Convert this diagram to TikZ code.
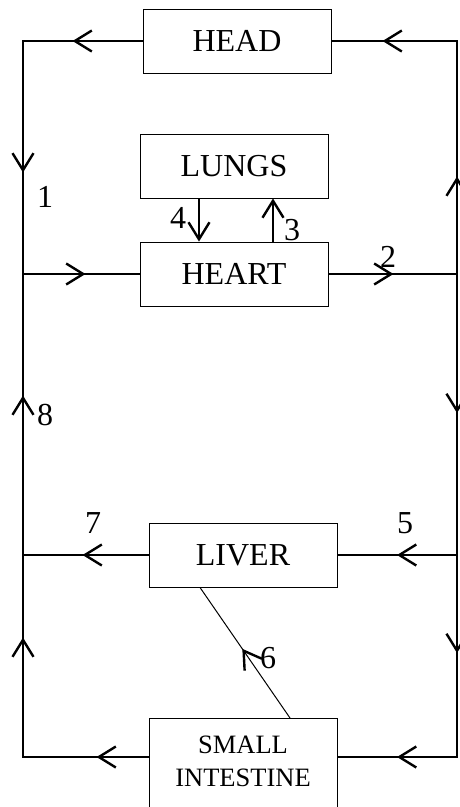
\documentclass[tikz,border=0pt]{standalone}
\usepackage{fontspec}
\setmainfont{Liberation Serif}
\usetikzlibrary{arrows.meta,decorations.markings}
\tikzset{
  organ/.style={draw, line width=0.9pt, minimum width=188pt, minimum height=64pt,
    inner sep=0pt, font=\fontsize{32}{38}\selectfont},
  num/.style={inner sep=0pt, font=\fontsize{32}{38}\selectfont},
  wire/.style={line width=2.4pt},
  barb/.tip={Straight Barb[length=17pt,width=21pt,line width=2.4pt]},
  flow/.style={postaction={decorate,decoration={markings,
    mark=at position #1 with {\arrow{barb}}}}}
}
\begin{document}
\begin{tikzpicture}[x=1pt,y=-1pt]
      \useasboundingbox (0,0) rectangle (459,807);
      % organs
      \node[organ] at (237,41) (head) {HEAD};
      \node[organ] at (234,166) (lungs) {LUNGS};
      \node[organ] at (234,274) (heart) {HEART};
      \node[organ] at (243,555) (liver) {LIVER};
      \node[organ, anchor=north, align=center, inner ysep=17pt, text depth=60pt,
        font=\fontsize{26.5}{33}\selectfont] at (243,718) (si) {SMALL\\INTESTINE};
      % corners
      \coordinate (tl) at (23,41);
      \coordinate (bl) at (23,757);
      \coordinate (tr) at (457,41);
      \coordinate (br) at (457,757);
      % left side
      \draw[wire, flow=70pt, flow=251pt, flow=415pt]
        (head.west) -- (tl) -- (tl |- heart.west) -- (heart.west);
      \draw[wire, flow=52pt, flow=245pt, flow=487pt]
        (si.west |- bl) -- (bl) -- (bl |- heart.west);
      \draw[wire, flow=66pt] (liver.west) -- (liver.west -| tl);
      % right side
      \draw[wire, flow=65pt, flow=226pt, flow=436pt]
        (heart.east) -- (heart.east -| tr) -- (tr) -- (head.east);
      \draw[wire, flow=139pt, flow=379pt, flow=543pt]
        (heart.east -| tr) -- (br) -- (si.east |- br);
      \draw[wire, flow=60pt] (liver.east -| tr) -- (liver.east);
      % lungs and heart
      \draw[wire, -barb] ([xshift=-35pt]lungs.south) -- ([xshift=-35pt]heart.north);
      \draw[wire, -barb] ([xshift=39pt]heart.north) -- ([xshift=39pt]lungs.south);
      % small intestine to liver
      \draw[line width=1pt, flow=84pt] ([xshift=47pt]si.north) -- ([xshift=-43pt]liver.south);
      % numbers
      \node[num] at (45,197) (n1) {1};
      \node[num] at (388,257) (n2) {2};
      \node[num] at (292,230) (n3) {3};
      \node[num] at (178,218) (n4) {4};
      \node[num] at (405,523) (n5) {5};
      \node[num] at (268,658) (n6) {6};
      \node[num] at (93,523) (n7) {7};
      \node[num] at (45,415) (n8) {8};
\end{tikzpicture}
\end{document}
